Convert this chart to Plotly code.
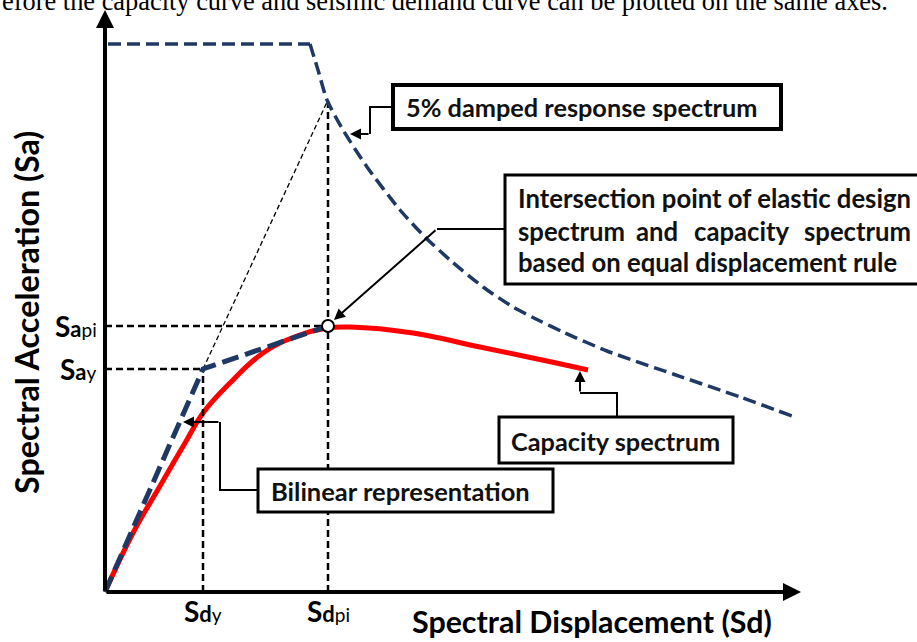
import plotly.graph_objects as go

# ---------------- data (arbitrary units: Sd horizontal, Sa vertical) ----------------
# 5% damped elastic response spectrum (plateau + descending branch)
spec_flat_sd = [0.3, 20.5]
spec_flat_sa = [54.8, 54.8]
spec_sd = [20.5, 21.3, 22.2, 23.8, 26.2, 29.5, 32.0, 34.5, 37.8, 40.8, 43.5, 45.8, 50.2, 56.8, 63.5, 68.7]
spec_sa = [54.8, 52.2, 49.2, 46.2, 42.5, 38.2, 35.5, 33.2, 30.5, 28.5, 27.1, 26.0, 24.1, 21.8, 19.5, 17.6]

# capacity spectrum
cap_sd = [0, 2.8, 5.5, 8.0, 9.8, 12.5, 15.8, 19.2, 22.2, 24.5, 30.8, 37.5, 44.2, 48.3]
cap_sa = [0, 5.9, 10.6, 14.9, 17.9, 20.9, 23.9, 25.6, 26.4, 26.5, 25.9, 24.5, 23.1, 22.2]

# characteristic points
Sd_y, Sa_y = 9.8, 22.3
Sd_pi, Sa_pi = 22.3, 26.6
Sa_elastic_pi = 49.2

bil_sd = [0, Sd_y, Sd_pi]
bil_sa = [0, Sa_y, Sa_pi]

x_tick_vals = [Sd_y, Sd_pi]
x_tick_text = ["<b>S</b><span style='font-size:22px'><b>d</b></span><span style='font-size:19px'>y</span>",
               "<b>S</b><span style='font-size:22px'><b>d</b></span><span style='font-size:19px'>pi</span>"]
y_tick_vals = [Sa_pi, Sa_y]
y_tick_text = ["<b>S</b><span style='font-size:22px'><b>a</b></span><span style='font-size:19px'>pi</span>",
               "<b>S</b><span style='font-size:22px'><b>a</b></span><span style='font-size:19px'>y</span>"]

x_title = "Spectral Displacement (Sd)"
y_title = "Spectral Acceleration (Sa)"
top_text = "efore the capacity curve and seismic demand curve can be plotted on the same axes."

# ---------------- layout helpers ----------------
W, H = 917, 642
X0, X1 = -10.5, 81.2
Y0, Y1 = -5.0, 59.2


def px(x):
    return X0 + x / W * (X1 - X0)


def py(y):
    return Y1 - y / H * (Y1 - Y0)


NAVY = "#1F3864"
FONT = "Lato"

fig = go.Figure()

# red capacity curve
fig.add_trace(go.Scatter(x=cap_sd, y=cap_sa, mode="lines",
                         line=dict(color="#FF0000", width=5, shape="spline", smoothing=1.2),
                         hoverinfo="skip"))

# guide lines (black dashed)
guide = dict(color="black", width=2.5, dash="7px,4px")
fig.add_trace(go.Scatter(x=[0, Sd_pi], y=[Sa_pi, Sa_pi], mode="lines", line=guide, hoverinfo="skip"))
fig.add_trace(go.Scatter(x=[0, Sd_y], y=[Sa_y, Sa_y], mode="lines", line=guide, hoverinfo="skip"))
fig.add_trace(go.Scatter(x=[Sd_y, Sd_y], y=[0, Sa_y], mode="lines", line=guide, hoverinfo="skip"))
fig.add_trace(go.Scatter(x=[Sd_pi, Sd_pi], y=[0, Sa_elastic_pi], mode="lines", line=guide, hoverinfo="skip"))
# elastic extension (thin dashed)
fig.add_trace(go.Scatter(x=[Sd_y, Sd_pi], y=[Sa_y, Sa_elastic_pi], mode="lines",
                         line=dict(color="black", width=1.3, dash="5px,3px"), hoverinfo="skip"))

# response spectrum
spec_line = dict(color=NAVY, width=3.5, dash="13px,6px")
fig.add_trace(go.Scatter(x=spec_flat_sd, y=spec_flat_sa, mode="lines", line=spec_line, hoverinfo="skip"))
fig.add_trace(go.Scatter(x=spec_sd, y=spec_sa, mode="lines",
                         line=dict(spec_line, shape="spline", smoothing=0.6), hoverinfo="skip"))

# bilinear representation
fig.add_trace(go.Scatter(x=bil_sd, y=bil_sa, mode="lines",
                         line=dict(color=NAVY, width=5, dash="17px,7px"), hoverinfo="skip"))

# intersection point
fig.add_trace(go.Scatter(x=[Sd_pi], y=[Sa_pi], mode="markers",
                         marker=dict(size=12, color="white", line=dict(color="black", width=2)),
                         hoverinfo="skip"))

shapes = []
annotations = []

# axes with arrows
annotations.append(dict(x=0, y=py(10), ax=0, ay=0, xref="x", yref="y", axref="x", ayref="y",
                        text="", showarrow=True, arrowhead=2, arrowsize=0.9, arrowwidth=4,
                        arrowcolor="black"))
annotations.append(dict(x=px(801), y=0, ax=0, ay=0, xref="x", yref="y", axref="x", ayref="y",
                        text="", showarrow=True, arrowhead=2, arrowsize=0.9, arrowwidth=4,
                        arrowcolor="black"))

# tick labels
for v, t in zip(x_tick_vals, x_tick_text):
    annotations.append(dict(x=v, y=py(611), xref="x", yref="y", text=t, showarrow=False,
                            xanchor="center", yanchor="middle",
                            font=dict(family=FONT, size=28, color="black")))
for v, t in zip(y_tick_vals, y_tick_text):
    annotations.append(dict(x=px(99), y=v, xref="x", yref="y", text=t, showarrow=False,
                            xanchor="right", yanchor="middle",
                            font=dict(family=FONT, size=28, color="black")))

# axis titles
annotations.append(dict(x=px(592), y=py(621), xref="x", yref="y", text="<b>" + x_title + "</b>",
                        showarrow=False, xanchor="center", yanchor="middle",
                        font=dict(family=FONT, size=30.4, color="black")))
annotations.append(dict(x=px(26), y=py(313), xref="x", yref="y", text="<b>" + y_title + "</b>",
                        showarrow=False, xanchor="center", yanchor="middle", textangle=-90,
                        font=dict(family=FONT, size=32.3, color="black")))

# top cut-off text (cut at the top edge in the source image)
annotations.append(dict(x=px(0), y=py(1), xref="x", yref="y", text=top_text, showarrow=False,
                        xanchor="left", yanchor="middle",
                        font=dict(family="Liberation Serif", size=26.4, color="black")))


def box(x0, y0, x1, y1, w=3):
    shapes.append(dict(type="rect", xref="x", yref="y", x0=px(x0), x1=px(x1), y0=py(y0), y1=py(y1),
                       line=dict(color="black", width=w), fillcolor="white", layer="above"))


def poly(points, w=2):
    path = "M " + " L ".join(f"{px(a)},{py(b)}" for a, b in points)
    shapes.append(dict(type="path", xref="x", yref="y", path=path,
                       line=dict(color="black", width=w), layer="above"))


def arrow(tail, tip, w=2):
    annotations.append(dict(x=px(tip[0]), y=py(tip[1]), ax=px(tail[0]), ay=py(tail[1]),
                            xref="x", yref="y", axref="x", ayref="y", text="", showarrow=True,
                            arrowhead=2, arrowsize=1.1, arrowwidth=w, arrowcolor="black"))


def label(x, y, t, size=25.5, anchor="left"):
    annotations.append(dict(x=px(x), y=py(y), xref="x", yref="y", text="<b>" + t + "</b>",
                            showarrow=False, xanchor=anchor, yanchor="middle",
                            font=dict(family=FONT, size=size, color="#111111")))


# 5% damped response spectrum box
box(393, 85, 781, 129, w=4)
label(404, 107, "5% damped response spectrum", 25.3)
poly([(393, 107), (370, 107), (370, 134)])
arrow((370, 134), (350, 134))

# intersection box (justified text)
box(505, 175, 930, 284, w=3)
label(516, 198, "Intersection point of elastic design", 25.7)
for xw, wtxt, anc in zip([516, 634, 692, 913], ["spectrum", "and", "capacity", "spectrum"],
                         ["left", "left", "left", "right"]):
    label(xw, 231, wtxt, 25.7, anc)
label(516, 262, "based on equal displacement rule", 25.7)
poly([(505, 229), (437, 229)])
arrow((437, 229), (334, 320))

# bilinear box
box(258, 469, 553, 512, w=3)
label(269, 491, "Bilinear representation", 25.5)
poly([(258, 490), (220, 490), (220, 422)])
arrow((220, 422), (183, 422))

# capacity box
box(499, 417, 733, 463, w=3)
label(509, 441, "Capacity spectrum", 25.3)
poly([(617, 417), (617, 393), (580, 393)])
arrow((580, 393), (580, 371))

fig.update_layout(
    width=W, height=H,
    margin=dict(l=0, r=0, t=0, b=0),
    paper_bgcolor="white", plot_bgcolor="white",
    showlegend=False,
    xaxis=dict(range=[X0, X1], visible=False, fixedrange=True),
    yaxis=dict(range=[Y0, Y1], visible=False, fixedrange=True),
    shapes=shapes,
    annotations=annotations,
)

fig.write_html("out.html", config={"displayModeBar": False, "staticPlot": True},
               post_script="document.body.style.margin='0px';")
